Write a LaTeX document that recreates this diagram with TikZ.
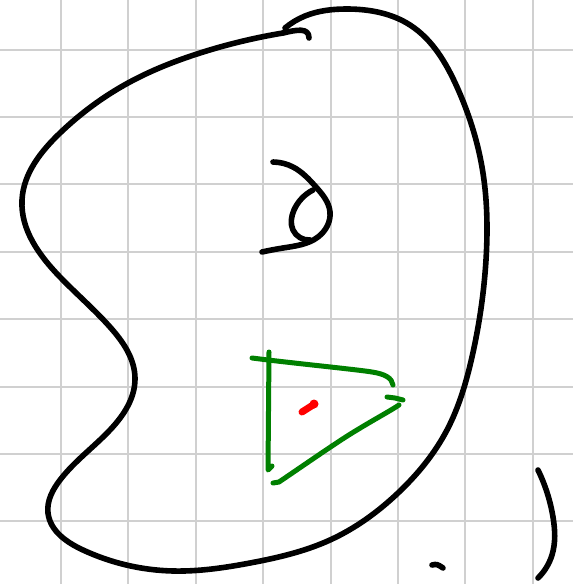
\documentclass[tikz,border=0pt]{standalone}
\usetikzlibrary{hobby}
\definecolor{gridgray}{RGB}{208,208,208}
\definecolor{inkgreen}{RGB}{0,128,0}
\tikzset{
  gridline/.style={draw=gridgray,line width=2pt},
  blackink/.style={draw=black,line width=5.6pt,line cap=round,line join=round},
  greenink/.style={draw=inkgreen,line width=5pt,line cap=round,line join=round},
  redink/.style={draw=red,line width=7pt,line cap=round}
}
\begin{document}
\begin{tikzpicture}[x=1pt,y=-1pt,use Hobby shortcut]
\useasboundingbox (0,0) rectangle (573,584);
\fill[white] (0,0) rectangle (573,584);
% grid
\foreach \i in {0,...,7} {
  \draw[gridline] ({60.7+67.45*\i},0) -- ({60.7+67.45*\i},584);
  \draw[gridline] (0,{49.6+67.4*\i}) -- (573,{49.6+67.4*\i});
}
% main closed-ish curve
\draw[blackink] (283,33) .. (200,53) .. (128,83) .. (60,133) .. (22,200)
 .. (60,277) .. (110,327) .. (135,378) .. (110,430) .. (60,480) .. (48,513)
 .. (83,550) .. (173,571) .. (250,563) .. (330,540) .. (398,493) .. (447,430)
 .. (472,357) .. (486,260) .. (482,167) .. (457,87) .. (410,25) .. (347,9)
 .. (305,16) .. (285,28);
\draw[blackink] (283,33) .. controls (296,30) and (309,27) .. (309,38);
% loop glyph
\draw[blackink] (273,162) .. (293,167) .. (316,187) .. (330,212) .. (318,237)
 .. (283,248) .. (262,252);
\draw[blackink] (313,190) .. (294,210) .. (293,230) .. (310,240);
% green triangle
\draw[greenink] (252,358) -- (268,360) .. controls (320,366) and (360,370) .. (372,372)
 .. controls (385,374) and (392,378) .. (393,385);
\draw[greenink] (269,352) -- (268,470) -- (272,466);
\draw[greenink] (273,483) -- (279,482) .. controls (310,461) and (340,440) .. (357,430)
 .. controls (375,419) and (390,411) .. (399,405);
\draw[greenink] (387,397) -- (395,398) -- (403,400);
% red mark
\draw[redink] (302,412) -- (313,405);
\fill[red] (314,404) circle (4.5pt);
% right bracket
\draw[blackink] (538,470) .. (553,517) .. (552,555) .. (538,578);
% small tick
\draw[blackink] (432,565) .. controls (437,564) .. (443,568);
\end{tikzpicture}
\end{document}
